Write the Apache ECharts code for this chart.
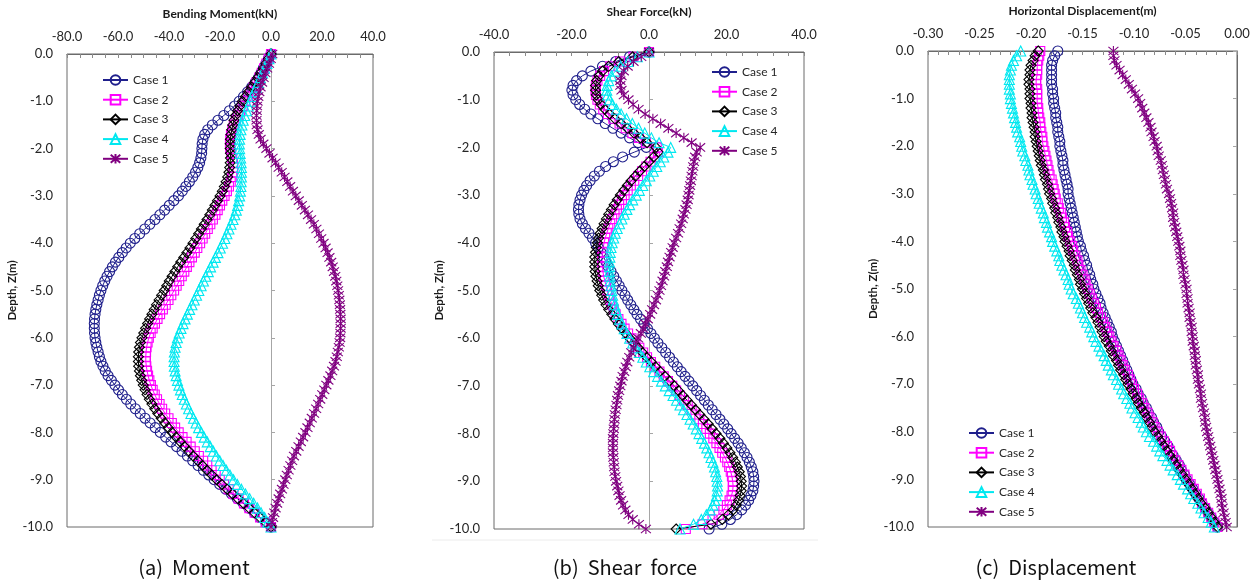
<!DOCTYPE html>
<html><head><meta charset="utf-8">
<script src="https://cdn.jsdelivr.net/npm/echarts@6/dist/echarts.min.js"></script>
<style>html,body{margin:0;padding:0;background:#fff}#chart{width:1255px;height:581px}</style>
</head><body><div id="chart"></div><script>
const depth = [
0,-0.1,-0.2,-0.3,-0.4,-0.5,-0.6,-0.7,-0.8,-0.9,
-1.0,-1.1,-1.2,-1.3,-1.4,-1.5,-1.6,-1.7,-1.8,-1.9,
-2.0,-2.1,-2.2,-2.3,-2.4,-2.5,-2.6,-2.7,-2.8,-2.9,
-3.0,-3.1,-3.2,-3.3,-3.4,-3.5,-3.6,-3.7,-3.8,-3.9,
-4.0,-4.1,-4.2,-4.3,-4.4,-4.5,-4.6,-4.7,-4.8,-4.9,
-5.0,-5.1,-5.2,-5.3,-5.4,-5.5,-5.6,-5.7,-5.8,-5.9,
-6.0,-6.1,-6.2,-6.3,-6.4,-6.5,-6.6,-6.7,-6.8,-6.9,
-7.0,-7.1,-7.2,-7.3,-7.4,-7.5,-7.6,-7.7,-7.8,-7.9,
-8.0,-8.1,-8.2,-8.3,-8.4,-8.5,-8.6,-8.7,-8.8,-8.9,
-9.0,-9.1,-9.2,-9.3,-9.4,-9.5,-9.6,-9.7,-9.8,-9.9,
-10.0];

const caseNames = ['Case 1','Case 2','Case 3','Case 4','Case 5'];

// (a) Bending moment, kN
const momentCase1 = [
0,-1.0,-2.0,-3.0,-3.9,-4.9,-6.2,-7.6,-9.2,-10.8,
-12.5,-14.3,-16.3,-18.5,-20.8,-23.0,-24.8,-26.0,-26.7,-27.0,
-27.1,-27.2,-27.5,-28.0,-28.7,-29.6,-30.7,-32.0,-33.4,-34.8,
-36.3,-38.1,-39.9,-41.7,-43.6,-45.5,-47.5,-49.5,-51.5,-53.4,
-55.2,-56.8,-58.3,-59.7,-61.0,-62.2,-63.3,-64.3,-65.2,-66.0,
-66.7,-67.3,-67.8,-68.3,-68.7,-69.0,-69.2,-69.3,-69.3,-69.2,
-69.0,-68.7,-68.3,-67.8,-67.3,-66.7,-65.9,-65.0,-63.9,-62.6,
-61.2,-59.8,-58.3,-56.7,-55.0,-53.2,-51.3,-49.4,-47.4,-45.4,
-43.4,-41.3,-39.2,-37.0,-34.9,-32.8,-30.7,-28.6,-26.5,-24.4,
-22.3,-20.1,-17.8,-15.5,-13.2,-10.9,-8.7,-6.5,-4.3,-2.1,
0];
const momentCase2 = [
0,-0.9,-1.8,-2.7,-3.6,-4.6,-5.7,-6.8,-7.9,-9.0,
-10.1,-11.1,-12.1,-13.0,-13.8,-14.6,-15.2,-15.7,-16.0,-16.1,
-16.0,-15.6,-15.2,-14.9,-14.8,-14.9,-15.2,-15.8,-16.5,-17.3,
-18.2,-19.1,-20.0,-20.9,-21.8,-22.8,-23.8,-24.8,-25.8,-26.8,
-27.8,-28.9,-29.9,-31.0,-32.0,-33.0,-34.0,-35.0,-36.0,-37.0,
-38.0,-39.1,-40.2,-41.3,-42.4,-43.5,-44.5,-45.5,-46.4,-47.2,
-47.9,-48.4,-48.8,-49.0,-49.1,-49.1,-48.9,-48.6,-48.2,-47.7,
-47.1,-46.4,-45.6,-44.7,-43.7,-42.7,-41.5,-40.2,-38.9,-37.6,
-36.2,-34.7,-33.1,-31.5,-29.9,-28.3,-26.6,-25.0,-23.3,-21.7,
-20.1,-18.4,-16.6,-14.7,-12.7,-10.6,-8.5,-6.4,-4.3,-2.1,
0];
const momentCase3 = [
0,-1.0,-2.0,-3.0,-4.1,-5.2,-6.4,-7.6,-8.8,-10.0,
-11.2,-12.2,-13.1,-13.9,-14.5,-15.0,-15.4,-15.7,-15.9,-16.0,
-16.0,-15.9,-15.9,-16.0,-16.2,-16.5,-17.0,-17.6,-18.3,-19.1,
-20.0,-21.0,-22.0,-23.0,-24.0,-25.1,-26.2,-27.3,-28.4,-29.5,
-30.6,-31.8,-33.0,-34.2,-35.4,-36.6,-37.7,-38.8,-39.9,-40.9,
-41.9,-42.9,-43.9,-44.9,-45.8,-46.7,-47.6,-48.4,-49.2,-49.9,
-50.6,-51.2,-51.6,-51.9,-52.0,-52.0,-51.9,-51.6,-51.2,-50.7,
-50.1,-49.4,-48.6,-47.7,-46.7,-45.6,-44.4,-43.1,-41.7,-40.3,
-38.8,-37.2,-35.6,-33.9,-32.2,-30.5,-28.7,-26.9,-25.1,-23.2,
-21.3,-19.3,-17.2,-15.1,-13.0,-10.8,-8.6,-6.5,-4.3,-2.1,
0];
const momentCase4 = [
0,-0.8,-1.6,-2.5,-3.3,-4.2,-5.0,-5.8,-6.6,-7.4,
-8.1,-8.9,-9.6,-10.3,-10.9,-11.4,-11.8,-12.1,-12.3,-12.4,
-12.3,-12.1,-11.9,-11.7,-11.6,-11.6,-11.6,-11.7,-11.8,-12.0,
-12.3,-12.7,-13.1,-13.6,-14.2,-14.9,-15.7,-16.5,-17.3,-18.1,
-19.0,-19.9,-20.8,-21.8,-22.7,-23.7,-24.6,-25.6,-26.5,-27.4,
-28.3,-29.2,-30.1,-31.0,-31.9,-32.8,-33.7,-34.5,-35.3,-36.0,
-36.7,-37.2,-37.6,-37.9,-38.0,-38.0,-37.9,-37.6,-37.2,-36.7,
-36.1,-35.5,-34.8,-34.0,-33.2,-32.3,-31.4,-30.4,-29.4,-28.4,
-27.3,-26.2,-25.0,-23.8,-22.6,-21.4,-20.1,-18.8,-17.5,-16.1,
-14.7,-13.2,-11.6,-10.0,-8.4,-6.8,-5.3,-3.9,-2.5,-1.2,
0];
const momentCase5 = [
0.5,-0.1,-0.8,-1.5,-2.2,-2.9,-3.5,-4.1,-4.6,-5.0,
-5.3,-5.5,-5.6,-5.7,-5.7,-5.6,-5.3,-4.8,-4.1,-3.0,
-1.8,-0.6,0.6,1.8,3.0,4.2,5.3,6.4,7.5,8.6,
9.7,10.9,12.1,13.3,14.5,15.7,16.8,17.8,18.8,19.7,
20.6,21.4,22.2,22.9,23.6,24.2,24.7,25.2,25.6,26.0,
26.3,26.6,26.8,27.0,27.1,27.2,27.3,27.3,27.3,27.2,
27.1,26.9,26.6,26.2,25.8,25.3,24.7,24.0,23.3,22.5,
21.7,20.9,20.1,19.3,18.5,17.7,16.9,16.0,15.2,14.3,
13.5,12.6,11.7,10.8,9.9,9.0,8.3,7.6,6.9,6.2,
5.6,4.9,4.3,3.6,3.0,2.4,1.8,1.3,0.8,0.4,
0];

// (b) Shear force, kN
const shearCase1 = [
0,-5.0,-8.6,-12.0,-15.0,-17.2,-18.7,-19.6,-19.9,-19.6,
-18.9,-17.9,-16.6,-15.0,-13.2,-11.3,-9.3,-7.2,-5.0,-2.8,
-0.7,-3.8,-6.8,-9.2,-11.2,-12.8,-14.1,-15.2,-16.1,-16.8,
-17.4,-17.8,-18.1,-18.2,-18.1,-17.8,-17.2,-16.4,-15.5,-14.6,
-13.8,-13.1,-12.4,-11.7,-11.1,-10.5,-9.8,-9.1,-8.4,-7.7,
-7.0,-6.2,-5.5,-4.7,-3.9,-3.1,-2.2,-1.3,-0.4,0.5,
1.4,2.3,3.3,4.3,5.3,6.3,7.3,8.3,9.3,10.3,
11.3,12.3,13.3,14.3,15.3,16.3,17.3,18.3,19.3,20.3,
21.2,22.1,23.0,23.8,24.6,25.3,25.9,26.4,26.8,27.0,
27.1,27.0,26.8,26.3,25.7,24.9,23.9,22.6,21.0,18.8,
15.5];
const shearCase2 = [
0,-4.0,-7.5,-10.0,-11.6,-12.6,-13.3,-13.7,-13.8,-13.7,
-13.3,-12.7,-11.8,-10.6,-9.2,-7.6,-6.0,-4.3,-2.6,-0.8,
2.0,2.3,1.5,0.4,-0.7,-1.8,-2.8,-3.8,-4.7,-5.5,
-6.3,-7.0,-7.7,-8.3,-8.9,-9.5,-10.0,-10.5,-10.9,-11.3,
-11.6,-11.8,-12.0,-12.1,-12.1,-12.0,-11.9,-11.7,-11.4,-11.1,
-10.8,-10.4,-10.0,-9.6,-9.1,-8.6,-7.9,-7.1,-6.3,-5.4,
-4.5,-3.5,-2.5,-1.5,-0.5,0.5,1.6,2.7,3.8,4.9,
6.0,7.0,8.0,9.0,10.0,11.0,12.0,13.0,13.9,14.8,
15.7,16.6,17.4,18.2,18.9,19.6,20.2,20.7,21.1,21.4,
21.6,21.7,21.6,21.3,20.8,20.1,19.2,18.0,16.4,13.8,
9.5];
const shearCase3 = [
0,-4.2,-7.8,-10.4,-12.0,-12.9,-13.5,-13.8,-13.8,-13.6,
-13.1,-12.4,-11.4,-10.2,-8.8,-7.2,-5.6,-3.9,-2.2,-0.5,
1.8,2.4,1.2,0.0,-1.2,-2.4,-3.5,-4.6,-5.6,-6.5,
-7.4,-8.2,-9.0,-9.7,-10.4,-11.0,-11.6,-12.1,-12.6,-13.0,
-13.3,-13.6,-13.8,-14.0,-14.0,-14.0,-13.9,-13.7,-13.4,-13.1,
-12.7,-12.2,-11.7,-11.1,-10.4,-9.6,-8.8,-7.9,-7.0,-6.0,
-5.0,-3.9,-2.8,-1.7,-0.6,0.6,1.7,2.9,4.1,5.3,
6.5,7.6,8.7,9.8,10.9,12.0,13.1,14.2,15.3,16.3,
17.3,18.3,19.2,20.1,20.9,21.6,22.3,22.8,23.3,23.6,
23.8,23.9,23.8,23.5,23.1,22.5,21.7,20.5,18.9,16.0,
7.0];
const shearCase4 = [
0,-3.0,-5.4,-7.3,-8.7,-9.7,-10.4,-10.8,-10.9,-10.7,
-10.2,-9.4,-8.4,-7.2,-5.8,-4.3,-2.7,-1.1,0.6,2.6,
5.6,4.9,3.8,2.9,2.0,1.1,0.2,-0.7,-1.6,-2.5,
-3.3,-4.2,-5.0,-5.7,-6.4,-7.0,-7.6,-8.2,-8.7,-9.1,
-9.5,-9.8,-10.0,-10.1,-10.2,-10.2,-10.2,-10.1,-10.0,-9.8,
-9.6,-9.4,-9.2,-8.9,-8.5,-8.1,-7.6,-7.0,-6.4,-5.7,
-5.0,-4.2,-3.4,-2.5,-1.6,-0.7,0.2,1.2,2.2,3.2,
4.2,5.2,6.2,7.1,8.0,8.9,9.8,10.6,11.4,12.2,
12.9,13.6,14.3,14.9,15.5,16.0,16.5,16.9,17.2,17.5,
17.6,17.7,17.6,17.4,17.0,16.5,15.8,14.8,13.5,11.5,
8.0];
const shearCase5 = [
0,-2.0,-4.0,-5.5,-6.5,-7.1,-7.4,-7.4,-7.1,-6.5,
-5.3,-4.1,-2.7,-1.0,1.0,3.0,5.0,7.0,9.0,11.0,
13.2,12.3,11.9,11.6,11.4,11.2,11.0,10.8,10.6,10.4,
10.2,10.0,9.7,9.4,9.0,8.7,8.3,7.9,7.5,7.0,
6.5,6.1,5.7,5.3,4.9,4.6,4.2,3.9,3.5,3.1,
2.7,2.3,1.8,1.3,0.8,0.3,-0.3,-0.9,-1.5,-2.1,
-2.8,-3.4,-4.0,-4.6,-5.1,-5.6,-6.0,-6.4,-6.8,-7.1,
-7.4,-7.7,-8.0,-8.2,-8.4,-8.6,-8.8,-8.9,-9.0,-9.1,
-9.2,-9.3,-9.3,-9.3,-9.3,-9.2,-9.1,-9.0,-8.9,-8.7,
-8.5,-8.2,-7.9,-7.6,-7.2,-6.7,-6.1,-5.3,-4.2,-2.6,
-0.8];

// (c) Horizontal displacement, m
const dispCase1 = [
-0.174,-0.177,-0.179,-0.180,-0.180,-0.180,-0.180,-0.180,-0.179,-0.179,
-0.178,-0.178,-0.177,-0.176,-0.176,-0.175,-0.174,-0.174,-0.173,-0.172,
-0.172,-0.171,-0.170,-0.169,-0.169,-0.168,-0.167,-0.166,-0.165,-0.164,
-0.164,-0.163,-0.162,-0.161,-0.160,-0.159,-0.158,-0.157,-0.156,-0.155,
-0.154,-0.152,-0.151,-0.149,-0.148,-0.146,-0.145,-0.143,-0.142,-0.140,
-0.139,-0.137,-0.135,-0.133,-0.132,-0.130,-0.128,-0.126,-0.124,-0.122,
-0.121,-0.119,-0.117,-0.115,-0.113,-0.111,-0.109,-0.107,-0.105,-0.103,
-0.101,-0.098,-0.096,-0.093,-0.091,-0.088,-0.086,-0.083,-0.081,-0.078,
-0.076,-0.073,-0.070,-0.067,-0.065,-0.062,-0.059,-0.056,-0.054,-0.051,
-0.049,-0.046,-0.043,-0.040,-0.037,-0.034,-0.031,-0.028,-0.025,-0.022,
-0.019];
const dispCase2 = [
-0.191,-0.192,-0.193,-0.194,-0.194,-0.194,-0.195,-0.195,-0.194,-0.194,
-0.194,-0.194,-0.193,-0.193,-0.192,-0.191,-0.191,-0.190,-0.189,-0.189,
-0.188,-0.187,-0.186,-0.185,-0.184,-0.183,-0.182,-0.180,-0.179,-0.178,
-0.177,-0.176,-0.174,-0.173,-0.171,-0.170,-0.168,-0.167,-0.165,-0.164,
-0.162,-0.160,-0.159,-0.157,-0.155,-0.154,-0.152,-0.150,-0.148,-0.147,
-0.145,-0.143,-0.141,-0.139,-0.137,-0.135,-0.132,-0.130,-0.128,-0.126,
-0.124,-0.122,-0.120,-0.117,-0.115,-0.113,-0.111,-0.109,-0.106,-0.104,
-0.102,-0.100,-0.097,-0.095,-0.092,-0.090,-0.087,-0.085,-0.082,-0.080,
-0.077,-0.074,-0.071,-0.068,-0.065,-0.063,-0.060,-0.057,-0.054,-0.051,
-0.048,-0.045,-0.042,-0.039,-0.036,-0.034,-0.031,-0.028,-0.025,-0.022,
-0.019];
const dispCase3 = [
-0.193,-0.196,-0.198,-0.200,-0.201,-0.201,-0.202,-0.202,-0.201,-0.201,
-0.201,-0.200,-0.200,-0.199,-0.199,-0.198,-0.197,-0.196,-0.196,-0.195,
-0.194,-0.193,-0.192,-0.191,-0.190,-0.188,-0.187,-0.186,-0.184,-0.183,
-0.182,-0.180,-0.179,-0.177,-0.176,-0.174,-0.173,-0.171,-0.170,-0.168,
-0.167,-0.165,-0.163,-0.162,-0.160,-0.158,-0.157,-0.155,-0.153,-0.152,
-0.150,-0.148,-0.146,-0.144,-0.142,-0.140,-0.137,-0.135,-0.133,-0.131,
-0.129,-0.127,-0.124,-0.122,-0.120,-0.117,-0.115,-0.113,-0.110,-0.108,
-0.106,-0.103,-0.101,-0.098,-0.096,-0.093,-0.090,-0.088,-0.085,-0.083,
-0.080,-0.077,-0.074,-0.071,-0.068,-0.065,-0.062,-0.059,-0.056,-0.053,
-0.050,-0.047,-0.044,-0.041,-0.038,-0.035,-0.031,-0.028,-0.025,-0.022,
-0.019];
const dispCase4 = [
-0.210,-0.214,-0.217,-0.219,-0.220,-0.221,-0.221,-0.221,-0.221,-0.220,
-0.220,-0.219,-0.218,-0.217,-0.216,-0.215,-0.214,-0.213,-0.211,-0.210,
-0.209,-0.208,-0.206,-0.205,-0.203,-0.202,-0.201,-0.199,-0.198,-0.196,
-0.195,-0.193,-0.192,-0.190,-0.188,-0.187,-0.185,-0.184,-0.182,-0.180,
-0.179,-0.177,-0.175,-0.173,-0.172,-0.170,-0.168,-0.166,-0.164,-0.163,
-0.161,-0.159,-0.156,-0.154,-0.152,-0.150,-0.148,-0.146,-0.143,-0.141,
-0.139,-0.137,-0.134,-0.132,-0.129,-0.127,-0.125,-0.122,-0.120,-0.117,
-0.115,-0.112,-0.110,-0.107,-0.104,-0.102,-0.099,-0.096,-0.093,-0.091,
-0.088,-0.085,-0.081,-0.078,-0.075,-0.072,-0.068,-0.065,-0.062,-0.058,
-0.055,-0.052,-0.048,-0.045,-0.042,-0.038,-0.035,-0.032,-0.028,-0.025,
-0.022];
const dispCase5 = [
-0.120,-0.120,-0.119,-0.117,-0.114,-0.111,-0.108,-0.105,-0.102,-0.099,
-0.096,-0.094,-0.092,-0.090,-0.088,-0.086,-0.084,-0.083,-0.081,-0.080,
-0.078,-0.077,-0.076,-0.074,-0.073,-0.072,-0.071,-0.070,-0.069,-0.068,
-0.066,-0.065,-0.064,-0.063,-0.062,-0.062,-0.061,-0.060,-0.059,-0.058,
-0.057,-0.056,-0.055,-0.055,-0.054,-0.053,-0.052,-0.052,-0.051,-0.050,
-0.049,-0.049,-0.048,-0.048,-0.047,-0.046,-0.046,-0.045,-0.044,-0.044,
-0.043,-0.043,-0.042,-0.041,-0.041,-0.040,-0.040,-0.039,-0.038,-0.038,
-0.037,-0.036,-0.035,-0.035,-0.034,-0.033,-0.032,-0.031,-0.031,-0.030,
-0.029,-0.028,-0.027,-0.026,-0.025,-0.024,-0.023,-0.022,-0.021,-0.020,
-0.019,-0.018,-0.017,-0.016,-0.015,-0.015,-0.014,-0.013,-0.012,-0.011,
-0.010];

const axisTitles = ['Bending Moment(kN)', 'Shear Force(kN)', 'Horizontal Displacement(m)'];
const depthTitle = 'Depth, Z(m)';
const captions = ['(a)  Moment', '(b)  Shear  force', '(c)  Displacement'];
const xMins = [-80, -40, -0.30];
const xMaxs = [40, 40, 0.00];
const xSteps = [20, 20, 0.05];
const xDecimals = [1, 1, 2];
const xMinorSplits = [4, 5, 5];

const panelData = [
  [momentCase1, momentCase2, momentCase3, momentCase4, momentCase5],
  [shearCase1, shearCase2, shearCase3, shearCase4, shearCase5],
  [dispCase1, dispCase2, dispCase3, dispCase4, dispCase5]
];

const FONT = 'Lato';
const caseStyles = [
  {symbol: 'circle', size: 10, color: '#1f1f8c'},
  {symbol: 'rect', size: 9, color: '#ff00ff'},
  {symbol: 'diamond', size: 10, color: '#000000'},
  {symbol: 'triangle', size: 10, color: '#00e8f0'},
  {symbol: 'path://M0,0L10,10M10,0L0,10M5,-1L5,11', size: 10, color: '#800080'}
];

const grids = [
  {left: 67, top: 54, width: 306, height: 473},
  {left: 494, top: 52, width: 310, height: 477},
  {left: 928, top: 51, width: 309, height: 476}
];

const xAxes = [], yAxes = [], series = [];
grids.forEach((g, gi) => {
  Object.assign(g, {show: true, borderColor: '#6b6b6b', borderWidth: 1, backgroundColor: 'rgba(0,0,0,0)', containLabel: false, outerBoundsMode: 'none'});
  const dec = xDecimals[gi];
  xAxes.push({
    gridIndex: gi, type: 'value', position: 'top',
    min: xMins[gi], max: xMaxs[gi], interval: xSteps[gi],
    axisLine: {show: true, onZero: false, lineStyle: {color: '#6b6b6b'}},
    axisTick: {show: true, inside: true, length: 4, lineStyle: {color: '#8a8a8a'}},
    minorTick: {show: true, splitNumber: xMinorSplits[gi], length: 4, lineStyle: {color: '#8a8a8a'}},
    axisLabel: {formatter: v => Number(v).toFixed(dec), color: '#262626', fontSize: 13, margin: 11, fontFamily: FONT},
    splitLine: {show: false},
    name: axisTitles[gi], nameLocation: 'middle', nameGap: 34,
    nameTextStyle: {fontWeight: 'bold', fontSize: 12, color: '#1a1a1a', fontFamily: FONT}
  });
  yAxes.push({
    gridIndex: gi, type: 'value', position: 'left', min: -10, max: 0, interval: 1,
    axisLine: {show: false, onZero: false}, axisTick: {show: false},
    axisLabel: {formatter: v => Number(v).toFixed(1), color: '#262626', fontSize: 13, margin: 14, fontFamily: FONT},
    splitLine: {show: false},
    name: depthTitle, nameLocation: 'middle', nameGap: 46,
    nameTextStyle: {fontWeight: 'bold', fontSize: 11.5, color: '#1a1a1a', fontFamily: FONT}
  });
  yAxes.push({
    gridIndex: gi, type: 'value', position: 'left', min: -10, max: 0, interval: 1,
    axisLine: {show: true, onZero: true, lineStyle: {color: gi === 2 ? '#6b6b6b' : '#a6a6a6'}},
    axisTick: {show: true, inside: gi !== 2, length: 4, lineStyle: {color: '#a6a6a6'}},
    axisLabel: {show: false}, splitLine: {show: false}
  });
  panelData[gi].forEach((vals, ci) => {
    const st = caseStyles[ci];
    series.push({
      name: caseNames[ci], type: 'line', xAxisIndex: gi, yAxisIndex: gi * 2,
      data: vals.map((v, i) => [v, depth[i]]),
      symbol: st.symbol, symbolSize: st.size, showSymbol: true, showAllSymbol: true,
      itemStyle: {color: 'rgba(255,255,255,0)', borderColor: st.color, borderWidth: 1.1},
      lineStyle: {color: st.color, width: 1},
      silent: true, animation: false, clip: false
    });
  });
});

const legendBase = {
  orient: 'vertical', data: caseNames, itemWidth: 25, itemHeight: 12, itemGap: 7.7,
  textStyle: {fontSize: 12, color: '#262626', fontFamily: FONT}, selectedMode: false
};
const legends = [
  Object.assign({left: 97, top: 69}, legendBase),
  Object.assign({left: 706, top: 61}, legendBase),
  Object.assign({left: 963, top: 422}, legendBase)
];

const captionX = [194, 625, 1056];
const graphic = captions.map((t, i) => ({
  type: 'text', x: captionX[i], y: 567, silent: true,
  style: {text: t, font: '20px "Noto Sans CJK KR"', fill: '#111', align: 'center', verticalAlign: 'middle', textAlign: 'center', textVerticalAlign: 'middle'}
}));
graphic.push({type: 'line', silent: true, shape: {x1: 432, y1: 540, x2: 818, y2: 540}, style: {stroke: '#ececec', lineWidth: 1}});

const chart = echarts.init(document.getElementById('chart'), null, {renderer: 'canvas'});
chart.setOption({
  animation: false,
  backgroundColor: '#ffffff',
  textStyle: {fontFamily: FONT},
  grid: grids, xAxis: xAxes, yAxis: yAxes, series: series,
  legend: legends, graphic: graphic
});
</script></body></html>
